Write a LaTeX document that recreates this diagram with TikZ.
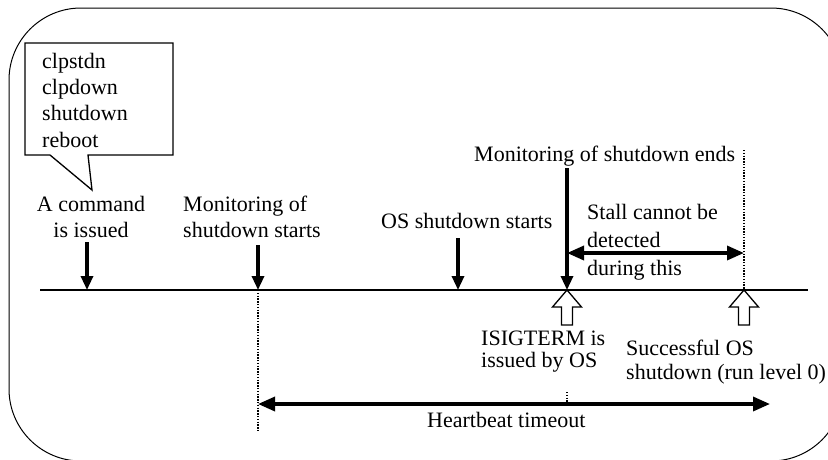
\documentclass[tikz,border=0pt]{standalone}
\usepackage{fontspec}
\setmainfont{Liberation Serif}
\usetikzlibrary{arrows.meta, positioning, calc}

\begin{document}
\begin{tikzpicture}[x=1pt, y=-1pt,
  every node/.style={font=\fontsize{22}{25.5}\selectfont, inner sep=0pt},
  tag/.style={align=left, anchor=base west},
  pointer/.style={line width=3.2pt, -{Triangle[length=14pt, width=12pt]}},
  span/.style={line width=3.4pt,
    {Triangle[length=17pt, width=14pt]}-{Triangle[length=17pt, width=14pt]}},
  marker/.style={line width=2.2pt, dash pattern=on 1.4pt off 1.4pt},
  hollow/.pic={
    \draw[line width=1.3pt, fill=white, line join=miter]
      (0,0) -- (14.5,17) -- (5.5,17) -- (5.5,35) -- (-5.5,35)
      -- (-5.5,17) -- (-14.5,17) -- cycle;
  },
]
\useasboundingbox (0,0) rectangle (828,459);

% Frame
\draw[line width=1pt, rounded corners=72pt] (9,8) rectangle (843,461);

% Callout with the commands
\draw[line width=1.3pt, fill=white] (25,43) -- (173,43) -- (173,155) -- (88,155)
  -- (92,190) -- (50,155) -- (25,155) -- cycle;
\node[tag, font=\fontsize{22}{26.3}\selectfont] (cmds) at (42,147)
  {clpstdn\\clpdown\\shutdown\\reboot};

% Time axis and events
\coordinate (axisL) at (40,290);
\coordinate (axisR) at (808,290);
\draw[line width=1.3pt] (axisL) -- (axisR);
\coordinate (tCmd) at (87,290);
\coordinate (tMon) at (258,290);
\coordinate (tOS) at (458,290);
\coordinate (tEnd) at (567,290);
\coordinate (tDone) at (744,290);

% Labels (anchored at the last line)
\node[align=center, anchor=base] (lCmd) at (91,237) {A command\\is issued};
\node[tag] (lMon) at (183,237) {Monitoring of\\shutdown starts};
\node[tag] (lOS) at (381,228) {OS shutdown starts};
\node[tag] (lEnd) at (474,161) {Monitoring of shutdown ends};
\node[tag, font=\fontsize{22}{28}\selectfont] (lStall) at (587,275)
  {Stall cannot be\\detected\\during this};
\node[tag, font=\fontsize{22}{21.5}\selectfont] (lTerm) at (481,367)
  {ISIGTERM is\\issued by OS};
\node[tag, font=\fontsize{22}{24}\selectfont] (lDone) at (626,379)
  {Successful OS\\shutdown (run level 0)};
\node[tag] (lBeat) at (427,427) {Heartbeat timeout};

% Event arrows
\draw[pointer] (tCmd |- 0,242) -- (tCmd);
\draw[pointer] (tMon |- 0,245) -- (tMon);
\draw[pointer] (tOS |- 0,238) -- (tOS);
\draw[pointer] (tEnd |- 0,168) -- (tEnd);

% Hollow markers
\pic at (tEnd) {hollow};
\pic at (tDone) {hollow};

% Dotted guides
\coordinate (mBot) at (258,432);
\coordinate (dTop) at (744,150);
\draw[marker] (tMon) -- (mBot);
\draw[marker] (dTop) -- (tDone);
\draw[marker] (567,392) -- (567,402);

% Intervals
\coordinate (sL) at (567,253);
\coordinate (sR) at (744,253);
\draw[span] (sL) -- (sR);
\coordinate (hL) at (258,404);
\coordinate (hR) at (770,404);
\draw[span] (hL) -- (hR);

\end{tikzpicture}
\end{document}
